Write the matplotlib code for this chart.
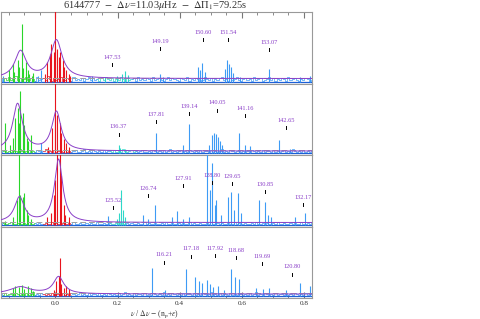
import numpy as np
import matplotlib
matplotlib.use('Agg')
import matplotlib.pyplot as plt

plt.rcParams['font.family'] = ['Liberation Serif', 'DejaVu Serif']
plt.rcParams['mathtext.fontset'] = 'stix'

XMIN, XMAX = -0.177, 0.826

# ---------------- data (per panel, top to bottom) ----------------
title_txt = r"6144777  $-$  $\Delta\nu$=11.03$\mu$Hz  $-$  $\Delta\Pi_1$=79.25s"
xlabel_txt = r"$\nu$ / $\Delta\nu$ $-$ (n$_{\rm p}$+$\epsilon$)"
xtick_vals = [0.0, 0.2, 0.4, 0.6, 0.8]

# background noise carpet (heights)
noise1 = [3,1,4,2,5,2,3,6,2,4,1,3,5,2,4,3,1,5,2,3,4,2,6,3,1,4,2,3,5,1,
          2,4,3,1,5,2,3,2,4,1,3,5,2,4,2,3,1,4,2,5,3,2,4,1,3,2,5,3,1,4,
          2,3,4,1,5,2,3,2,4,3,1,5,2,3,4,2,1,3,5,2,4,3,2,1,4,3,2,5,1,3,
          2,4,3,1,2,5,3,2,4,1,3,2,4,5,2,3,1,4,2,3,5,2,1,3,4,2,3,1,5,2,
          3,4,1,2,3,5,2,4,1,3,2,4,3,1,5,2,3,4,2,1,3,2,4,3,1,2]
noise2 = [1,2,3,1,2,1,3,2,1,4,2,1,2,3,1,2,1,3,2,1,2,4,1,2,1,3,1,2,2,1,
          3,1,2,1,2,3,1,1,2,4,1,2,1,3,2,1,2,1,3,1,2,2,1,3,1,2,1,4,2,1,
          2,3,1,2,1,2,3,1,1,2,1,3,2,1,2,1,3,1,2,4,1,2,1,2,3,1,2,1,3,2,
          1,2,1,3,1,2,2,1,3,1,2,1,2,4,1,2,1,3,2,1,2,3,1,2,1,2,1,3,2,1,
          2,1,3,1,2,2,1,3,1,2,1,2,3,1,2,1,4,2,1,2,1,3,1,2,1,2]
noise3 = [1,2,1,1,2,3,1,1,2,1,1,2,1,3,1,1,2,1,2,1,1,2,1,1,3,1,2,1,1,2,
          1,1,2,1,3,1,1,2,1,1,2,1,2,1,1,3,1,1,2,1,1,2,1,1,2,1,3,1,1,2,
          1,2,1,1,2,1,1,3,1,2,1,1,2,1,1,2,1,3,1,1,2,1,1,2,1,2,1,1,3,1,
          2,1,1,2,1,1,2,1,3,1,1,2,1,2,1,1,2,1,1,3,1,2,1,1,2,1,1,2,1,3,
          1,1,2,1,2,1,1,2,1,3,1,1,2,1,1,2,1,2,1,1,3,1,1,2,1,2]
noise4 = [2,1,3,1,2,2,1,3,2,1,2,1,3,1,2,4,1,2,1,3,2,1,2,1,3,1,2,2,1,3,
          1,2,1,3,2,1,2,4,1,2,1,3,1,2,2,1,3,1,2,1,3,2,1,2,1,3,1,2,4,1,
          2,1,3,1,2,2,1,3,1,2,1,3,2,1,2,1,4,1,2,1,3,2,1,2,1,3,1,2,2,1,
          3,1,2,1,3,2,1,2,4,1,2,1,3,1,2,2,1,3,1,2,1,3,2,1,2,1,3,1,2,4,
          1,2,1,3,2,1,2,1,3,1,2,2,1,3,1,2,1,3,2,1,2,1,3,1,2,3]

# peaks: positions and heights
peak_x1 = [-0.170,-0.151,-0.138,-0.132,-0.122,-0.116,-0.109,-0.103,-0.096,-0.090,-0.084,-0.077,-0.071,
           -0.055,-0.045,-0.035,
           -0.026,-0.019,-0.013,-0.006,-0.003,0.000,0.006,0.010,0.016,0.023,0.029,0.035,0.042,0.048,
           0.119,0.158,0.199,0.215,0.225,0.235,
           0.338,0.347,0.460,0.466,0.473,0.482,0.547,0.553,0.559,0.566,0.572,0.595,0.688,0.788,0.820]
peak_h1 = [6,12,18,10,22,15,58,14,20,12,8,6,9,
           6,12,8,
           20,28,38,30,36,80,33,25,30,22,15,12,8,6,
           6,5,6,8,11,7,
           8,5,15,12,19,10,13,22,18,15,9,5,13,5,6]
peak_x2 = [-0.161,-0.145,-0.138,-0.129,-0.122,-0.119,-0.113,-0.106,-0.100,-0.093,-0.087,-0.080,
           -0.048,-0.023,
           -0.010,-0.003,0.000,0.006,0.013,0.019,0.026,0.035,0.042,
           0.203,0.209,0.225,
           0.325,0.412,0.431,0.495,0.505,0.511,0.518,0.524,0.531,0.537,0.592,0.611,0.627,0.720,0.756]
peak_h2 = [30,8,15,35,45,30,62,40,28,15,12,18,
           10,6,
           25,35,72,38,30,20,14,10,6,
           8,5,4,
           20,8,29,8,18,20,19,16,12,8,20,8,7,13,4]
peak_x3 = [-0.161,-0.138,-0.125,-0.119,-0.113,-0.106,-0.100,-0.093,-0.087,-0.080,
           -0.016,-0.026,-0.006,0.000,0.006,0.013,0.019,0.026,0.032,0.042,
           0.170,0.199,0.206,0.212,0.219,0.225,
           0.283,0.299,0.322,0.376,0.392,0.412,0.431,0.489,0.498,0.505,0.514,0.518,0.534,
           0.556,0.566,0.576,0.588,0.598,0.656,0.675,0.685,0.695,0.772,0.804]
peak_h3 = [4,8,25,75,30,28,32,15,10,6,
           12,8,30,45,75,75,50,20,10,8,
           9,6,12,35,15,8,
           10,6,20,8,14,6,8,75,35,62,20,25,10,
           28,33,15,32,12,25,23,10,8,8,12]
peak_x4 = [-0.138,-0.129,-0.119,-0.109,-0.100,-0.090,-0.080,-0.071,
           -0.006,0.003,0.010,0.013,0.019,0.026,0.035,0.045,
           0.312,0.354,0.421,0.450,0.463,0.473,0.489,0.498,0.508,0.524,0.543,
           0.566,0.579,0.592,0.646,0.669,0.688,0.743,0.788,0.820]
peak_h4 = [8,10,9,11,7,10,8,5,
           6,15,20,38,12,8,10,7,
           28,6,27,19,15,13,16,12,9,10,6,
           27,19,17,8,7,8,6,13,10]

noises = [noise1, noise2, noise3, noise4]
peak_xs = [peak_x1, peak_x2, peak_x3, peak_x4]
peak_hs = [peak_h1, peak_h2, peak_h3, peak_h4]

# colour regions (mode ridges)
green_rng = (-0.165, -0.065)
red_rng = (-0.035, 0.055)
cyan_rngs = [(0.14, 0.25), (0.18, 0.26), (0.18, 0.23), None]

# fitted profiles: (centre, height, hwhm) for l=2 and l=0, plus background
fit_l2 = [(-0.1125, 27, 0.022), (-0.122, 47, 0.019), (-0.116, 25, 0.019), (-0.113, 7, 0.040)]
fit_l0 = [(0.003, 38, 0.022), (0.003, 39, 0.018), (0.010, 63, 0.016), (0.010, 17, 0.020)]
fit_bg = [3, 2, 2, 2]
thresh = [4, 3, 3, 3]

# mixed mode period labels: x, height, text
lab_x = [[0.183, 0.338, 0.476, 0.556, 0.688],
         [0.203, 0.325, 0.431, 0.521, 0.611, 0.743],
         [0.186, 0.299, 0.412, 0.505, 0.569, 0.675, 0.797],
         [0.350, 0.437, 0.514, 0.582, 0.666, 0.762]]
lab_h = [[17, 33, 42, 42, 32],
         [19, 32, 40, 43, 38, 26],
         [17, 29, 39, 42, 41, 33, 20],
         [34, 40, 41, 39, 33, 22]]
lab_t = [["147.53", "149.19", "150.60", "151.54", "153.07"],
         ["136.37", "137.81", "139.14", "140.05", "141.16", "142.65"],
         ["125.52", "126.74", "127.91", "128.80", "129.65", "130.85", "132.17"],
         ["116.21", "117.18", "117.92", "118.68", "119.69", "120.80"]]

# ---------------- drawing ----------------
BLUE = '#3d9bf5'
BLUE_D = '#1d5fd6'
GREEN = '#2ad62a'
RED = '#e8141e'
CYAN = '#2ed8c8'
PURPLE = '#8a3fc8'
SPINE = '#999999'

fig = plt.figure(figsize=(4.8, 3.19), dpi=100)
W, H = 480.0, 319.0
tops = [12, 83.5, 155, 226.5]
ph = 71.5
left_px, right_px = 0.5, 312

def colour_of(x, i):
    if green_rng[0] <= x <= green_rng[1]:
        return GREEN
    if red_rng[0] <= x <= red_rng[1]:
        return RED
    c = cyan_rngs[i]
    if c is not None and c[0] <= x <= c[1]:
        return CYAN
    return BLUE

for i in range(4):
    ax = fig.add_axes([left_px / W, 1 - (tops[i] + ph) / H, (right_px - left_px) / W, ph / H])
    ax.set_xlim(XMIN, XMAX)
    ax.set_ylim(-2, 69.5)
    for s in ax.spines.values():
        s.set_color(SPINE)
        s.set_linewidth(0.8)

    # noise carpet, split by colour region
    nx = np.linspace(XMIN, XMAX, len(noises[i]))
    ny = np.array(noises[i], dtype=float)
    cols = [colour_of(x, i) for x in nx]
    start = 0
    for k in range(1, len(nx) + 1):
        if k == len(nx) or cols[k] != cols[start]:
            seg = slice(max(start - 1, 0), k)
            ax.plot(nx[seg], ny[seg], color=cols[start], lw=0.5, drawstyle='steps-mid', zorder=2)
            start = k
    ax.axhline(0, color=BLUE_D, lw=0.9, zorder=2)

    # peaks
    px_ = np.array(peak_xs[i]); ph_ = np.array(peak_hs[i], dtype=float)
    pc = [colour_of(x, i) for x in px_]
    ax.vlines(px_, 0, ph_, colors=pc, lw=0.8, zorder=3)

    # threshold
    ax.axhline(thresh[i], color='#a0a0a0', lw=0.7, ls=(0, (6, 3)), zorder=4)

    # fitted profile
    xx = np.linspace(XMIN, XMAX, 800)
    c2, h2, w2 = fit_l2[i]
    c0, h0, w0 = fit_l0[i]
    yy = fit_bg[i] + h2 / (1 + ((xx - c2) / w2) ** 2) + h0 / (1 + ((xx - c0) / w0) ** 2)
    ax.plot(xx, yy, color=PURPLE, lw=0.7, zorder=5)

    # labels
    for lx, lh, lt in zip(lab_x[i], lab_h[i], lab_t[i]):
        ax.plot([lx, lx], [lh - 1.5, lh + 1.5], color='black', lw=0.7, zorder=6)
        ax.text(lx, lh + 7, lt, color=PURPLE, fontsize=4.6, ha='center', va='center', zorder=6)

    ax.set_xticks(xtick_vals)
    ax.set_xticks(np.arange(-0.15, 0.81, 0.05), minor=True)
    ax.tick_params(axis='x', which='both', direction='in', colors='#777777', top=(i == 0), bottom=(i == 3),
                   labelbottom=(i == 3), labelsize=5.2, pad=2.5)
    ax.tick_params(axis='x', which='major', length=4)
    ax.tick_params(axis='x', which='minor', length=2)
    ax.set_yticks([])
    for lab in ax.get_xticklabels():
        lab.set_color('#333333')

fig.text(155 / W, 1 - 5.5 / H, title_txt, ha='center', va='center', fontsize=7.5, color='#333333')
fig.text(155 / W, 1 - 314.5 / H, xlabel_txt, ha='center', va='center', fontsize=5.5, color='#333333')

fig.savefig('out.png', dpi=100)
